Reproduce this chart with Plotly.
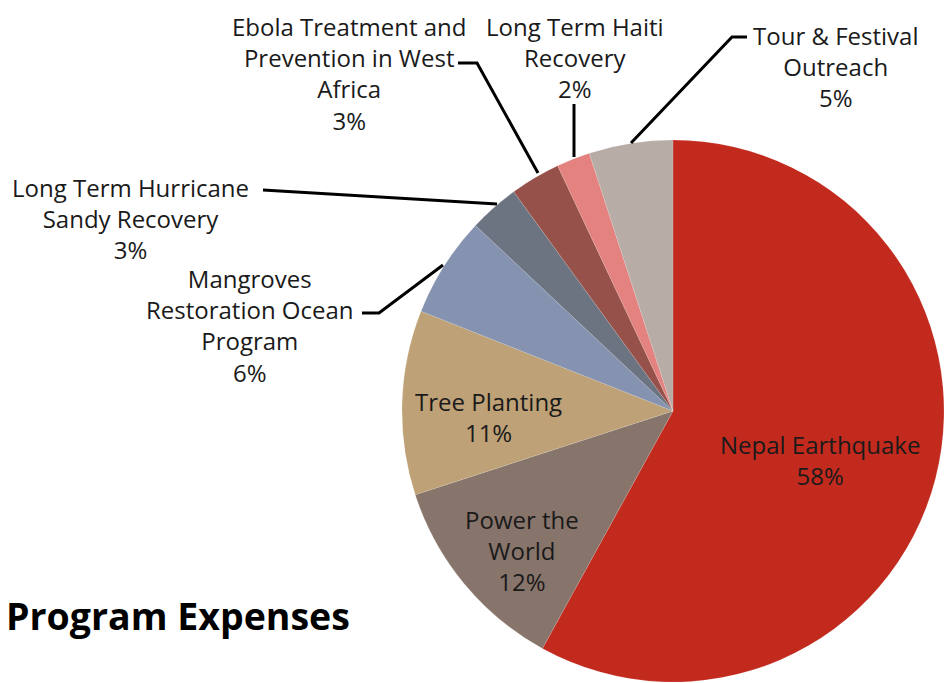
import plotly.graph_objects as go

W, H = 945, 683

labels = ["Nepal Earthquake", "Power the World", "Tree Planting",
          "Mangroves Restoration Ocean Program", "Long Term Hurricane Sandy Recovery",
          "Ebola Treatment and Prevention in West Africa", "Long Term Haiti Recovery",
          "Tour & Festival Outreach"]
values = [58, 12, 11, 6, 3, 3, 2, 5]
wrapped = ["Nepal Earthquake", "Power the<br>World", "Tree Planting",
           "Mangroves<br>Restoration Ocean<br>Program", "Long Term Hurricane<br>Sandy Recovery",
           "Ebola Treatment and<br>Prevention in West<br>Africa", "Long Term Haiti<br>Recovery",
           "Tour & Festival<br>Outreach"]
colors = ["#C22A1E", "#87746A", "#BEA176", "#8593B1", "#6B7480",
          "#96514B", "#E3827F", "#B8ACA6"]

# label block centres (px) and leader lines (px)
label_pos = [(820, 460), (522, 550), (488, 417), (250, 325), (130, 218),
             (349, 73), (575, 57), (835, 67)]
leaders = [None, None, None,
           [(362, 313), (379, 313), (443, 265)],
           [(263, 190), (497, 204)],
           [(458, 63), (477, 63), (538, 173)],
           [(574, 104), (574, 157)],
           [(631, 143), (732, 37), (747, 37)]]

def px(x):
    return x / W

def py(y):
    return 1 - y / H

fig = go.Figure(go.Pie(
    labels=labels, values=values, sort=False, direction="clockwise", rotation=0,
    marker=dict(colors=colors, line=dict(color="rgba(255,255,255,0.25)", width=0.5)),
    textinfo="none", hoverinfo="label+percent", showlegend=False,
    domain=dict(x=[px(402), px(944)], y=[py(682), py(140)]),
))

font_family = "Open Sans, Noto Sans, sans-serif"
total = sum(values)
annotations = []
for i, (lab, v) in enumerate(zip(wrapped, values)):
    x, y = label_pos[i]
    annotations.append(dict(
        x=px(x), y=py(y), xref="paper", yref="paper", showarrow=False,
        text=f"{lab}<br>{round(100 * v / total)}%", align="center",
        xanchor="center", yanchor="middle",
        font=dict(family=font_family, size=24, color="#1a1a1a"),
    ))
annotations.append(dict(
    x=px(4), y=py(615), xref="paper", yref="paper", showarrow=False,
    text="<b>Program Expenses</b>", xanchor="left", yanchor="middle",
    font=dict(family=font_family, size=37.5, color="#000000"),
))

shapes = []
for pts in leaders:
    if not pts:
        continue
    path = "M " + " L ".join(f"{px(a)},{py(b)}" for a, b in pts)
    shapes.append(dict(type="path", path=path, xref="paper", yref="paper",
                       line=dict(color="#000000", width=3)))

fig.update_layout(
    width=W, height=H, margin=dict(l=0, r=0, t=0, b=0),
    paper_bgcolor="white", plot_bgcolor="white",
    annotations=annotations, shapes=shapes,
)

fig.write_html("out.html")
